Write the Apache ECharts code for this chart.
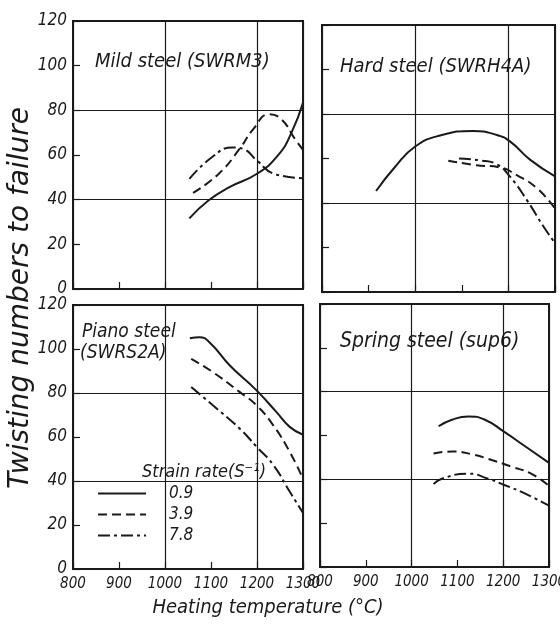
<!DOCTYPE html>
<html>
<head>
<meta charset="utf-8">
<script src="https://cdn.jsdelivr.net/npm/echarts@6.0.0/dist/echarts.min.js"></script>
<style>
  html, body { margin: 0; padding: 0; background: #fff; }
  #main { width: 560px; height: 628px; }
</style>
</head>
<body>
<div id="main"></div>
<script>
// strain rates (S^-1)
const rates = ['0.9', '3.9', '7.8'];
const tempTicks = [800, 900, 1000, 1100, 1200, 1300];

// Mild steel (SWRM3)  [temperature, twisting number]
const mild09 = [[1053, 31.6], [1095, 39.7], [1140, 45.6], [1200, 51.6], [1245, 59.7], [1275, 70], [1301, 84]];
const mild39 = [[1061, 43], [1117, 51.6], [1162, 62.7], [1192, 71.6], [1226, 78.2], [1253, 76], [1283, 67], [1301, 62]];
const mild78 = [[1053, 49.3], [1102, 59], [1147, 63.4], [1170, 62.7], [1200, 57.5], [1237, 51.6], [1301, 49.6]];

// Hard steel (SWRH4A)
const hard09 = [[916, 45.4], [957, 56.3], [1000, 65.4], [1051, 70.2], [1124, 72.4], [1175, 70.6], [1204, 67.6], [1247, 59.4], [1300, 52]];
const hard39 = [[1071, 59], [1131, 57], [1182, 56], [1218, 52.5], [1262, 46.5], [1300, 37.5]];
const hard78 = [[1094, 60], [1138, 59.2], [1175, 57.4], [1204, 51.7], [1240, 41.2], [1276, 29.2], [1300, 22]];

// Piano steel (SWRS2A)
const piano09 = [[1054, 104.9], [1075, 105.3], [1097, 103], [1141, 92.5], [1199, 81.2], [1242, 71.4], [1271, 64.6], [1300, 61]];
const piano39 = [[1057, 95.5], [1104, 89.5], [1162, 80.5], [1199, 74.4], [1235, 65.4], [1271, 53.3], [1300, 41]];
const piano78 = [[1057, 82.7], [1104, 74.4], [1162, 63.9], [1199, 55.6], [1235, 47.4], [1271, 35.2], [1300, 25.5]];

// Spring steel (sup6)
const spring09 = [[1059, 64.2], [1088, 67.2], [1124, 68.7], [1160, 67.2], [1200, 62], [1247, 55.2], [1300, 47.5]];
const spring39 = [[1048, 51.8], [1088, 52.7], [1131, 51.5], [1175, 48.8], [1218, 45.8], [1262, 42.5], [1300, 37]];
const spring78 = [[1048, 37.8], [1066, 40.3], [1124, 42.6], [1167, 40.3], [1204, 37.3], [1247, 33.6], [1300, 28]];

const panels = [
  { name: 'Mild steel (SWRM3)', curves: [mild09, mild39, mild78] },
  { name: 'Hard steel (SWRH4A)', curves: [hard09, hard39, hard78] },
  { name: 'Piano steel (SWRS2A)', curves: [piano09, piano39, piano78] },
  { name: 'Spring steel (sup6)', curves: [spring09, spring39, spring78] }
];

const FONT = "'Liberation Sans Narrow', 'DejaVu Sans Condensed', 'DejaVu Sans', sans-serif";
const WIDE = "'DejaVu Sans', sans-serif";
const INK = '#1a1a1a';
const dashes = ['solid', [9, 5], [12, 4, 3, 4]];

const grids = [
  { left: 73, top: 21, width: 230, height: 268 },
  { left: 322, top: 25, width: 233, height: 267 },
  { left: 73, top: 305, width: 230, height: 264 },
  { left: 320, top: 304, width: 229, height: 263 }
];

let xAxes = [], yAxes = [], series = [];
grids.forEach((g, i) => {
  g.show = true;
  g.borderColor = INK;
  g.borderWidth = 2;
  g.backgroundColor = 'transparent';
  g.containLabel = false;
  g.outerBoundsMode = 'none';
  const bottomRow = i >= 2, leftCol = i % 2 === 0;
  // axis with ticks / labels
  xAxes.push({
    type: 'value', gridIndex: i, min: 800, max: 1300, interval: 100,
    axisLine: { show: false }, splitLine: { show: false },
    axisTick: { show: true, inside: true, length: 7, lineStyle: { color: INK, width: 1.2 } },
    axisLabel: {
      show: bottomRow, margin: 8, color: INK, fontSize: 15, fontStyle: 'italic', fontFamily: FONT,
      formatter: v => String(v)
    }
  });
  // axis only for the grid lines (1000, 1200)
  xAxes.push({
    type: 'value', gridIndex: i, min: 800, max: 1300, interval: 200,
    axisLine: { show: false }, axisTick: { show: false }, axisLabel: { show: false },
    splitLine: { show: true, lineStyle: { color: INK, width: 1.2 } }
  });
  yAxes.push({
    type: 'value', gridIndex: i, min: 0, max: 120, interval: 20,
    axisLine: { show: false }, splitLine: { show: false },
    axisTick: { show: true, inside: true, length: 7, lineStyle: { color: INK, width: 1.2 } },
    axisLabel: {
      show: leftCol, margin: 6, color: INK, fontSize: 17, fontStyle: 'italic', fontFamily: FONT
    }
  });
  yAxes.push({
    type: 'value', gridIndex: i, min: 0, max: 120, interval: 40,
    axisLine: { show: false }, axisTick: { show: false }, axisLabel: { show: false },
    splitLine: { show: true, lineStyle: { color: INK, width: 1.2 } }
  });
  panels[i].curves.forEach((c, k) => {
    series.push({
      name: rates[k],
      type: 'line',
      xAxisIndex: 2 * i,
      yAxisIndex: 2 * i,
      data: c,
      smooth: true,
      symbol: 'none',
      silent: true,
      itemStyle: { color: INK },
      lineStyle: { color: INK, width: 2, type: dashes[k] }
    });
  });
});

function label(text, x, y, size, extra) {
  return Object.assign({
    type: 'text', x: x, y: y, silent: true,
    style: {
      text: text, fill: INK, fontSize: size, fontStyle: 'italic', fontFamily: FONT,
      verticalAlign: 'middle', align: 'left'
    }
  }, extra || {});
}

const option = {
  backgroundColor: '#fff',
  animation: false,
  grid: grids,
  xAxis: xAxes,
  yAxis: yAxes,
  series: series,
  legend: {
    data: rates,
    orient: 'vertical',
    left: 92,
    top: 480,
    itemWidth: 48,
    itemHeight: 14,
    itemGap: 4,
    selectedMode: false,
    itemStyle: { opacity: 0 },
    textStyle: { color: INK, fontSize: 17, fontStyle: 'italic', fontFamily: FONT, padding: [0, 0, 0, 18] }
  },
  graphic: [
    label('Mild steel (SWRM3)', 95, 62, 20),
    label('Hard steel (SWRH4A)', 340, 67, 20),
    label('Piano steel', 82, 332, 19),
    label('(SWRS2A)', 80, 353, 19),
    label('Spring steel (sup6)', 340, 342, 21),
    label('Strain rate(S\u207B\u00B9)', 142, 472, 18),
    label('Twisting numbers to failure', 21, 298, 28, { rotation: Math.PI / 2, style: {
      text: 'Twisting numbers to failure', fill: INK, fontSize: 28, fontStyle: 'italic', fontFamily: WIDE,
      align: 'center', verticalAlign: 'middle' } }),
    label('Heating temperature (\u00B0C)', 268, 608, 20, { style: {
      text: 'Heating temperature (\u00B0C)', fill: INK, fontSize: 20, fontStyle: 'italic', fontFamily: FONT,
      align: 'center', verticalAlign: 'middle' } })
  ]
};

const chart = echarts.init(document.getElementById('main'), null, { renderer: 'canvas' });
chart.setOption(option);
</script>
</body>
</html>
